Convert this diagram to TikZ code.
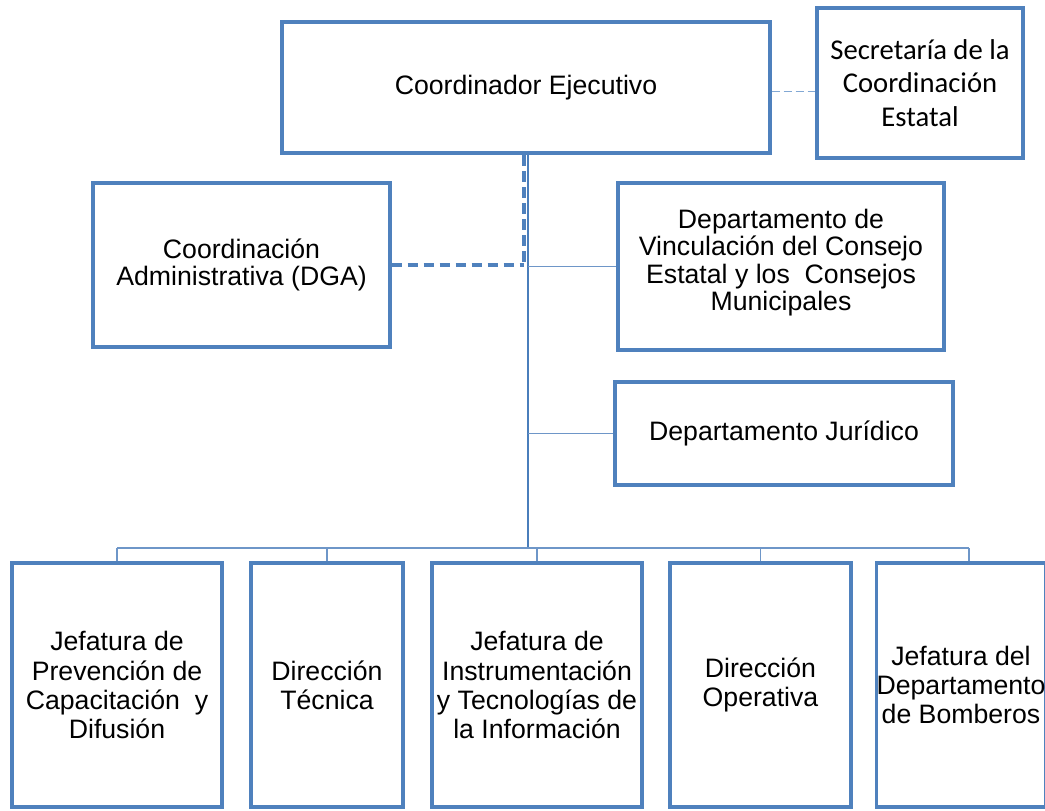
\documentclass[tikz,border=0pt]{standalone}
\usepackage{fontspec}
\setmainfont{Liberation Sans}
\newfontfamily\calibri{Carlito}
\begin{document}
\begin{tikzpicture}[x=0.75pt,y=-0.75pt,
  box/.style={draw=boxblue,line width=2.3pt,fill=white,inner sep=0pt,align=center,
    font=\fontsize{20}{20.5}\selectfont},
  lowbox/.style={box,minimum height=244*0.75pt,font=\fontsize{20}{21.8}\selectfont},
  mainline/.style={draw=lineblue,line width=1.9pt},
  thinline/.style={draw=thinblue,line width=1.1pt},
  dashline/.style={draw=boxblue,line width=2.6pt,dash pattern=on 8pt off 4pt},
  lightdash/.style={draw=lightblue,line width=1.1pt,dash pattern=on 6pt off 3pt}]
\definecolor{boxblue}{RGB}{79,129,189}
\definecolor{lineblue}{RGB}{74,126,187}
\definecolor{thinblue}{RGB}{110,150,200}
\definecolor{lightblue}{RGB}{130,168,212}
\useasboundingbox (0,0) rectangle (1045,810);
\fill[white] (0,0) rectangle (1045,810);

\coordinate (bus) at (528,548);
\coordinate (dashx) at (524,155);

% boxes
\node[box,minimum width=488*0.75pt,minimum height=131*0.75pt] (ce) at (526,87.5) {Coordinador Ejecutivo};
\node[box,minimum width=206*0.75pt,minimum height=150*0.75pt,font=\calibri\fontsize{21.5}{25}\selectfont] (sec) at (920,83) {Secretaría de la\\Coordinación\\Estatal};
\node[box,minimum width=297*0.75pt,minimum height=164*0.75pt] (dga) at (241.5,265) {Coordinación\\Administrativa (DGA)};
\node[box,minimum width=326*0.75pt,minimum height=167*0.75pt,text depth=10pt] (vin) at (781,266.5) {Departamento de\\Vinculación del Consejo\\Estatal y los\ \ Consejos\\Municipales};
\node[box,minimum width=338*0.75pt,minimum height=103*0.75pt] (jur) at (784,433.5) {Departamento Jurídico};
\node[lowbox,minimum width=210*0.75pt] (b1) at (117,685) {Jefatura de\\Prevención de\\Capacitación\ \ y\\Difusión};
\node[lowbox,minimum width=152*0.75pt] (b2) at (327,685) {Dirección\\Técnica};
\node[lowbox,minimum width=210*0.75pt] (b3) at (537,685) {Jefatura de\\Instrumentación\\y Tecnologías de\\la Información};
\node[lowbox,minimum width=181*0.75pt] (b4) at (760.5,685) {Dirección\\Operativa};
\node[lowbox,minimum width=162*0.75pt] (b5) at (961,685) {Jefatura del\\Departamento\\de Bomberos};

% main vertical
\draw[mainline] (ce.south -| bus) -- (bus);
% dashed overlay and dashed line to DGA
\draw[dashline] (dashx) -- (dashx |- dga.east);
\draw[dashline] (dga.east) -- (dga.east -| dashx);
% lines to right-side departments
\draw[thinline] (vin.west) -- (vin.west -| bus);
\draw[thinline] (jur.west) -- (jur.west -| bus);
% dashed to Secretaría
\draw[lightdash] ([yshift=-3pt]ce.east) -- ([yshift=-3pt]ce.east -| sec.west);
% bus and stubs
\draw[thinline] (b1.north |- bus) -- ([xshift=6pt]b5.north |- bus);
\foreach \b in {b1,b2,b3,b4}{
  \draw[thinline] (\b.north) -- (\b.north |- bus);
}
\draw[thinline] ([xshift=6pt]b5.north) -- ([xshift=6pt]b5.north |- bus);
\end{tikzpicture}
\end{document}
